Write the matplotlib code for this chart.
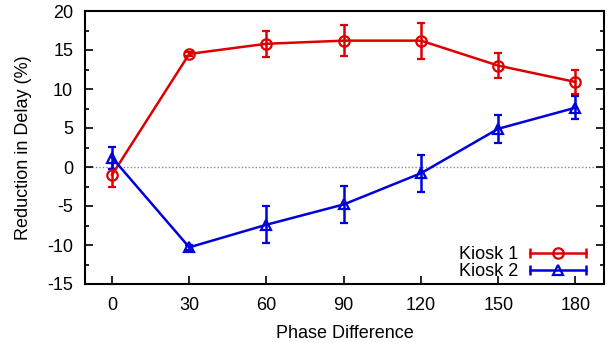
import numpy as np
import matplotlib
matplotlib.use("Agg")
from matplotlib import pyplot as plt
from matplotlib.ticker import MultipleLocator
from matplotlib.lines import Line2D
from matplotlib.legend_handler import HandlerLine2D

plt.rcParams["font.family"] = ["Liberation Sans", "DejaVu Sans"]
plt.rcParams["font.size"] = 13
plt.rcParams["axes.unicode_minus"] = False

phase = ["0", "30", "60", "90", "120", "150", "180"]
kiosk1 = [-1.0, 14.5, 15.8, 16.2, 16.2, 13.0, 10.9]
kiosk1_err = [1.5, 0.3, 1.7, 2.0, 2.3, 1.6, 1.5]
kiosk2 = [1.2, -10.3, -7.4, -4.8, -0.8, 4.9, 7.6]
kiosk2_err = [1.4, 0.3, 2.4, 2.4, 2.4, 1.8, 1.5]

x = np.arange(len(phase))
red = "#dd0000"
blue = "#0000dd"

fig = plt.figure(figsize=(6.16, 3.43), dpi=100)
ax = fig.add_axes([85 / 616, 1 - 284 / 343, 519 / 616, 273 / 343])

ax.axhline(0, color="#888888", linestyle=(0, (1, 1.5)), linewidth=1, zorder=1)

ax.errorbar(x, kiosk1, yerr=kiosk1_err, color=red, marker="o", markersize=7.5,
            markerfacecolor="none", markeredgewidth=1.6, linewidth=1.8,
            elinewidth=1.8, capsize=3, capthick=1.8, zorder=3)
ax.errorbar(x, kiosk2, yerr=kiosk2_err, color=blue, marker="^", markersize=7.5,
            markerfacecolor="none", markeredgewidth=1.6, linewidth=1.8,
            elinewidth=1.8, capsize=3, capthick=1.8, zorder=3)

ax.set_xlim(-0.35, 6.37)
ax.set_ylim(-15, 20)
ax.set_xticks(x)
ax.set_xticklabels(phase)
ax.yaxis.set_major_locator(MultipleLocator(5))
ax.yaxis.set_minor_locator(MultipleLocator(2.5))
ax.tick_params(axis="both", which="both", direction="in", width=1.2)
ax.tick_params(axis="y", which="major", length=6, right=True, pad=8.5)
ax.tick_params(axis="y", which="minor", length=3, right=True)
ax.tick_params(axis="x", which="major", length=6, top=False, pad=9)
for s in ax.spines.values():
    s.set_linewidth(1.5)

ax.set_xlabel("Phase Difference", labelpad=8)
ax.set_ylabel("Reduction in Delay (%)", labelpad=11)

# legend handles in gnuplot style: line with end caps and marker in the middle
handles = []
labels = ["Kiosk 1", "Kiosk 2"]
hmap = {}
for c, m in [(red, "o"), (blue, "^")]:
    mid = Line2D([], [], color=c, linewidth=1.8, marker=m, markersize=7.5,
                 markerfacecolor="none", markeredgewidth=1.6)
    caps = Line2D([], [], color=c, linestyle="none", marker="|", markersize=7,
                  markeredgewidth=1.8)
    hmap[caps] = HandlerLine2D(numpoints=2, marker_pad=0)
    handles.append((mid, caps))

ax.legend(handles, labels, loc="lower right", bbox_to_anchor=(0.98, -0.013),
          frameon=False, markerfirst=False, handlelength=3.1, handletextpad=0.7,
          borderaxespad=0, labelspacing=0.0, handler_map=hmap)

fig.savefig("out.png", dpi=100)
